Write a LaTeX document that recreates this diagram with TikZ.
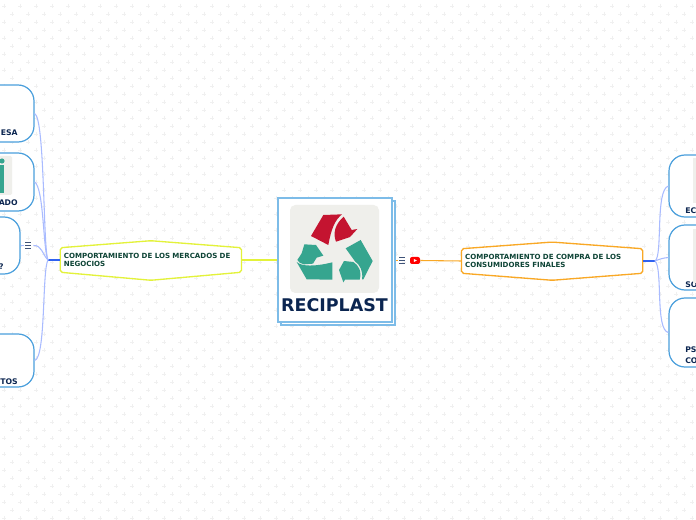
\documentclass[tikz,border=0pt]{standalone}
\usepackage{fontspec}
\setmainfont{DejaVu Sans}
\usetikzlibrary{positioning, backgrounds}
\definecolor{navytext}{HTML}{0B2550}
\definecolor{greentext}{HTML}{0E4436}
\definecolor{boxblue}{HTML}{4A9FDC}
\definecolor{mainblue}{HTML}{7DBCE8}
\definecolor{branchblue}{HTML}{A9BBFF}
\definecolor{hubblue}{HTML}{2F62F0}
\definecolor{limeline}{HTML}{E3F23A}
\definecolor{orangeline}{HTML}{F9A825}
\definecolor{logogrey}{HTML}{EFEFEB}
\definecolor{logogreen}{HTML}{36A58F}
\definecolor{logored}{HTML}{C41430}
\definecolor{iconblue}{HTML}{3F5378}
\definecolor{plusgrey}{HTML}{F0F0F0}
\tikzstyle{mainnode}=[rectangle, draw=mainblue, line width=0.8pt, fill=white,
					minimum width=85.5pt, minimum height=93pt, inner sep=0pt]
\tikzstyle{topicnode}=[rectangle, inner xsep=2.5pt, inner ysep=2pt, align=left, text=greentext,
					font=\fontsize{5.3}{6.5}\selectfont\bfseries, text width=130.5pt, minimum height=18pt]
\tikzstyle{hexline}=[line width=1pt, fill=white, rounded corners=1.5pt]
\tikzstyle{subnode}=[rectangle, draw=boxblue, line width=0.9pt, fill=white,
					rounded corners=12pt, minimum width=75pt]
\tikzstyle{sublabel}=[inner sep=0pt, text=navytext, font=\fontsize{5.8}{7}\selectfont\bfseries]

\begin{document}
\begin{tikzpicture}[
 x=0.75pt, y=-0.75pt,
 branchline/.style={draw=branchblue, line width=0.8pt},
 hubline/.style={draw=hubblue, line width=0.9pt},
 menuline/.style={draw=iconblue, line width=0.6pt},
 ]
 \useasboundingbox (0,0) rectangle (696,520);

 %Background
 \begin{pgfonlayer}{background}
 \fill[white] (0,0) rectangle (696,520);
 \foreach \rownum in {0,...,32}{
  \foreach \colnum in {0,...,43}{
   \pgfmathsetmacro{\plusx}{4+16*\colnum}
   \pgfmathsetmacro{\plusy}{6+16*\rownum}
   \draw[plusgrey, line width=0.5pt] (\plusx-2,\plusy) -- (\plusx+2,\plusy) (\plusx,\plusy-2) -- (\plusx,\plusy+2);
   \draw[plusgrey, line width=0.5pt] (\plusx+6,\plusy+8) -- (\plusx+10,\plusy+8) (\plusx+8,\plusy+6) -- (\plusx+8,\plusy+10);
  }
 }
 \end{pgfonlayer}

 %Nodes
 \node[mainnode, xshift=2.25pt, yshift=-2.25pt] (shadow_node) at (335,260) {};
 \node[mainnode] (reciplast_node) at (335,260) {};
 \node[topicnode] (mercados_node) [left=27pt of reciplast_node] {COMPORTAMIENTO DE LOS MERCADOS DE\\NEGOCIOS};
 \node[topicnode] (compra_node) [right=51.75pt of reciplast_node, yshift=-0.75pt] {COMPORTAMIENTO DE COMPRA DE LOS\\CONSUMIDORES FINALES};

 \begin{pgfonlayer}{background}
 \draw[hexline, draw=limeline] (mercados_node.north west) -- ([yshift=5.25pt]mercados_node.north) -- (mercados_node.north east) -- (mercados_node.south east) -- ([yshift=-6pt]mercados_node.south) -- (mercados_node.south west) -- cycle;
 \draw[hexline, draw=orangeline] (compra_node.north west) -- ([yshift=5pt]compra_node.north) -- (compra_node.north east) -- (compra_node.south east) -- ([yshift=-5.25pt]compra_node.south) -- (compra_node.south west) -- cycle;
 \end{pgfonlayer}

 \node[subnode, minimum height=42.75pt] (empresa_node) at (-16,113.5) {};
 \node[subnode, minimum height=43.5pt] (mercado_node) at (-16,182) {};
 \node[subnode, minimum height=42.75pt] (pregunta_node) at (-30,245.5) {};
 \node[subnode, minimum height=39.75pt] (productos_node) at (-16,360.5) {};
 \node[subnode, minimum height=46.5pt] (economico_node) at (719,186) {};
 \node[subnode, minimum height=48.75pt] (social_node) at (719,257.5) {};
 \node[subnode, minimum height=51.75pt] (psicologico_node) at (719,332.5) {};

 \node[sublabel, anchor=base east] (empresa_label) at (18,136) {ESA};
 \node[sublabel, anchor=base east] (mercado_label) at (18,206) {ADO};
 \node[sublabel, anchor=base east] (pregunta_label) at (4,270) {?};
 \node[sublabel, anchor=base east] (productos_label) at (18,384) {TOS};
 \node[sublabel, anchor=base west] (economico_label) at (685,213.5) {EC};
 \node[sublabel, anchor=base west] (social_label) at (685,287) {SO};
 \node[sublabel, anchor=base west] (psicologico_label) at (685,352) {PS};
 \node[sublabel, anchor=base west] (psicologico_label2) at (685,363.5) {CO};

 %Thumbnails
 \fill[logogrey, rounded corners=1pt] (-10,156) rectangle (12,195);
 \fill[logogreen] (2,161) circle (2.6);
 \fill[logogreen] (0,165) rectangle (3.5,193);
 \fill[logogrey] (693,158) rectangle (696,203);
 \fill[logogrey] (693,229) rectangle (696,283);

 %Logo
 \fill[logogrey, rounded corners=4pt] (290,205) rectangle (379,293);
 \begin{scope}[shift={(260,185)}, x=0.25pt, y=-0.25pt]
 \fill[logored] (153,153) -- (190,90) -- (246,88) .. controls (225,105) and (214,130) .. (205,180) -- cycle;
 \fill[logored] (251,95) -- (275,135) -- (292,132) -- (270,156) -- (228,170) .. controls (218,145) and (225,118) .. (251,95) -- cycle;
 \fill[logogreen] (133,178) -- (168,180) -- (190,212) -- (170,218) -- (159,236) -- (132,238) .. controls (122,236) and (116,232) .. (112,225) -- (125,205) -- cycle;
 \fill[logogreen] (110,231) .. controls (125,245) and (165,245) .. (217,232) -- (217,284) -- (140,283) -- cycle;
 \fill[logogreen] (257,190) -- (302,165) -- (338,228) -- (310,283) -- (306,283) .. controls (310,258) and (300,240) .. (285,229) -- cycle;
 \fill[logogreen] (237,255) -- (252,228) -- (280,231) .. controls (295,240) and (306,258) .. (299,284) -- (255,284) -- (250,292) -- cycle;
 \end{scope}
 \node[inner sep=0pt, text=navytext, font=\fontsize{13.1}{15}\selectfont\bfseries] (titulo_node) at (334.5,305.5) {RECIPLAST};

 %Icons
 \coordinate (menu_right) at (402,260.5);
 \coordinate (menu_left) at (28,245.5);
 \foreach \iconname in {menu_right, menu_left}{
  \foreach \iconrow in {-3,0,3}{
   \draw[menuline] ([xshift=-2.25pt,yshift=\iconrow*0.75pt]\iconname) -- ([xshift=2.25pt,yshift=\iconrow*0.75pt]\iconname);
  }
 }
 \node[rectangle, fill=red, rounded corners=1.5pt, minimum width=7.5pt, minimum height=5.25pt, inner sep=0pt] (youtube_node) at (415,260.5) {};
 \fill[white] (413.8,259) -- (416.8,260.5) -- (413.8,262) -- cycle;

 %Lines
 \coordinate (hub_left) at (48,260);
 \coordinate (hub_right) at (655,261);
 \draw[limeline, line width=0.9pt] (mercados_node.east) -- (reciplast_node.west);
 \draw[orangeline, line width=0.8pt] (shadow_node.east |- menu_right) -- ([xshift=-3pt]menu_right);
 \draw[orangeline, line width=0.8pt] (youtube_node.east) -- (compra_node.west);
 \draw[hubline] (hub_left) -- (mercados_node.west);
 \draw[hubline] (compra_node.east) -- (hub_right);
 \draw[branchline] (hub_left) .. controls (43,250) and (45,118) .. (empresa_node.east);
 \draw[branchline] (hub_left) .. controls (43,250) and (44,188) .. (mercado_node.east);
 \draw[branchline] (hub_left) .. controls (42,254) and (42,245) .. ([xshift=4pt]menu_left);
 \draw[branchline] ([xshift=-3pt]menu_left) -- (pregunta_node.east);
 \draw[branchline] (hub_left) .. controls (42,270) and (46,358) .. (productos_node.east);
 \draw[branchline] (hub_right) .. controls (663,256) and (655,190) .. (economico_node.west);
 \draw[branchline] (hub_right) .. controls (660,259) and (663,258) .. (social_node.west);
 \draw[branchline] (hub_right) .. controls (663,268) and (655,330) .. (psicologico_node.west);
 \end{tikzpicture}
\end{document}
